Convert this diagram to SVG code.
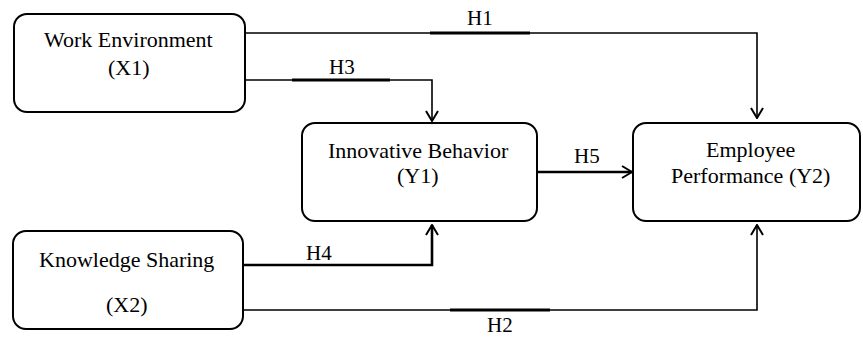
<svg xmlns="http://www.w3.org/2000/svg" width="863" height="339" viewBox="0 0 863 339">
<style>
.box{fill:#fff;stroke:#000;stroke-width:2}
.c{fill:none;stroke:#000;stroke-width:1.6}
.ck{fill:none;stroke:#000;stroke-width:2.6}
.hl{fill:none;stroke:#000;stroke-width:3.2}
</style>
<defs>
<marker id="ah" viewBox="0 0 12 14" refX="11" refY="7" markerWidth="12" markerHeight="14" markerUnits="userSpaceOnUse" orient="auto">
<path d="M1,1 L11,7 L1,13" fill="none" stroke="#000" stroke-width="2"/>
</marker>
</defs>
<rect width="863" height="339" fill="#fff"/>
<g id="connectors">
<path class="c" d="M245,33 H757 V118" marker-end="url(#ah)"/>
<line class="hl" x1="430" y1="33" x2="530" y2="33"/>
<path class="c" d="M245,80 H432 V121" marker-end="url(#ah)"/>
<line class="hl" x1="292" y1="80" x2="390" y2="80"/>
<path class="ck" d="M243,265 H432 V225" marker-end="url(#ah)"/>
<path class="c" d="M243,310 H757 V225" marker-end="url(#ah)"/>
<line class="hl" x1="450" y1="310" x2="550" y2="310"/>
<path class="ck" d="M537,172 H632" marker-end="url(#ah)"/>
<text x="467" y="25" font-size="21" font-family="Liberation Serif">H1</text>
<text x="329" y="74" font-size="21" font-family="Liberation Serif">H3</text>
<text x="306" y="260" font-size="21" font-family="Liberation Serif">H4</text>
<text x="574" y="163" font-size="21" font-family="Liberation Serif">H5</text>
<text x="487" y="332" font-size="21" font-family="Liberation Serif">H2</text>
</g>
<g id="work-environment">
<rect class="box" x="14" y="14" width="231" height="98" rx="13"/>
<text x="44" y="47" font-size="22" font-family="Liberation Serif">Work Environment</text>
<text x="108" y="75" font-size="22" font-family="Liberation Serif">(X1)</text>
</g>
<g id="knowledge-sharing">
<rect class="box" x="13" y="231" width="230" height="98" rx="13"/>
<text x="39" y="267" font-size="22" font-family="Liberation Serif">Knowledge Sharing</text>
<text x="106" y="312" font-size="22" font-family="Liberation Serif">(X2)</text>
</g>
<g id="innovative-behavior">
<rect class="box" x="302" y="123" width="235" height="98" rx="13"/>
<text x="328" y="158" font-size="22" font-family="Liberation Serif">Innovative Behavior</text>
<text x="397" y="183" font-size="22" font-family="Liberation Serif">(Y1)</text>
</g>
<g id="employee-performance">
<rect class="box" x="633" y="123" width="227" height="98" rx="13"/>
<text x="706" y="157" font-size="22" font-family="Liberation Serif">Employee</text>
<text x="671" y="183" font-size="22" font-family="Liberation Serif">Performance (Y2)</text>
</g>
</svg>
